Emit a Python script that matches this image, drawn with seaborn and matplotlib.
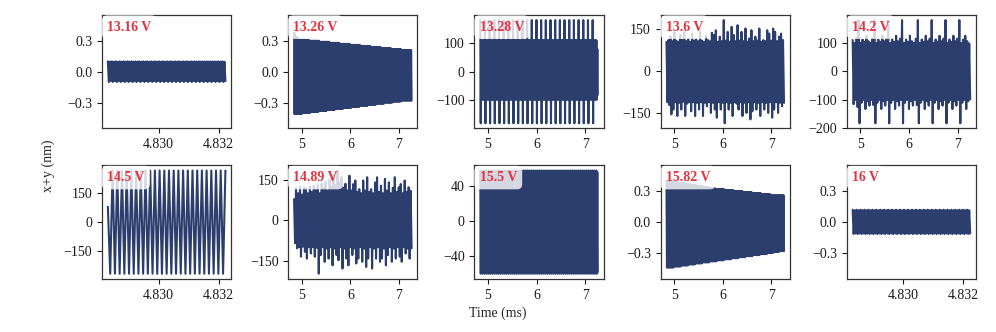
import numpy as np
import seaborn as sns
import matplotlib
matplotlib.use('Agg')
import matplotlib.pyplot as plt
from matplotlib.ticker import MultipleLocator, FormatStrFormatter

# --- Data (peak values of each oscillation cycle) ---
VOLTAGES = ['13.16 V', '13.26 V', '13.28 V', '13.6 V', '14.2 V',
            '14.5 V', '14.89 V', '15.5 V', '15.82 V', '16 V']

# time window of each trace (ms)
T_START = [4.82831, 4.84, 4.84, 4.84, 4.84, 4.82831, 4.84, 4.84, 4.84, 4.82831]
T_END = [4.83223, 7.26, 7.26, 7.26, 7.26, 4.83223, 7.26, 7.26, 7.26, 4.83223]

# 13.16 V
HI_1316 = [0.10, 0.097] * 30
LO_1316 = [-0.10, -0.09] * 30

# 13.26 V (slowly decaying envelope)
HI_1326_LEVELS = [0.38, 0.36, 0.34, 0.33, 0.32, 0.31, 0.30, 0.29, 0.28, 0.27,
                  0.26, 0.25, 0.24, 0.23, 0.22, 0.21]
HI_1326_COUNTS = [1, 1, 1, 1, 1, 10, 10, 10, 10, 10, 10, 10, 10, 10, 10, 10]
LO_1326_LEVELS = [-0.41, -0.40, -0.39, -0.38, -0.37, -0.36, -0.35, -0.34,
                  -0.33, -0.32, -0.31, -0.30, -0.29, -0.28]
LO_1326_COUNTS = [8, 8, 8, 8, 8, 8, 8, 8, 8, 8, 8, 8, 8, 11]

# 13.28 V (bursts every ~0.1 ms)
HI_1328 = ([178] + [108] * 4) * 25 + [78]
LO_1328 = ([-179] + [-97] * 4) * 25 + [-80]

# 13.6 V
HI_136 = [105, 112, 125, 108, 140, 110, 106, 130, 112, 145, 108, 118, 106, 135,
          110, 116, 108, 142, 110, 106, 128, 112, 108, 138, 130, 147, 106, 124,
          108, 183, 110, 141, 106, 159, 130, 108, 165, 110, 141, 108, 153, 106,
          118, 147, 108, 124, 110, 153, 106, 112, 108, 147, 135, 110, 153, 141,
          108, 124, 135, 112]
LO_136 = [-110, -120, -153, -136, -110, -159, -112, -136, -108, -159, -115, -110,
          -142, -110, -159, -112, -136, -110, -159, -112, -124, -110, -148, -112,
          -136, -165, -110, -136, -112, -185, -110, -136, -112, -159, -110, -115,
          -136, -110, -159, -112, -148, -110, -171, -142, -110, -136, -112, -159,
          -110, -136, -112, -148, -110, -165, -136, -110, -148, -112, -124, -112]

# 14.2 V
HI_142 = [110, 100, 118, 180, 100, 112, 104, 125, 106, 100, 115, 180, 100, 112,
          104, 125, 106, 115, 180, 100, 112, 104, 125, 106, 115, 180, 100, 112,
          104, 125, 106, 100, 115, 180, 100, 112, 104, 125, 106, 115, 180, 100,
          112, 104, 125, 106, 115, 180, 100, 112, 104, 125, 106, 115, 180, 100,
          112, 125, 106, 98]
LO_142 = [-115, -100, -125, -182, -110, -100, -132, -105, -120, -100, -118, -182,
          -110, -100, -132, -105, -120, -100, -182, -110, -100, -132, -105, -120,
          -100, -182, -110, -100, -132, -105, -120, -100, -118, -182, -110, -100,
          -132, -105, -120, -100, -182, -110, -100, -132, -105, -120, -100, -182,
          -110, -100, -132, -105, -120, -100, -182, -110, -100, -132, -105, -98]

# 14.5 V (resolved oscillation, starts mid-swing)
HI_145 = [80] + [270] * 25
LO_145 = [-270] * 25

# 14.89 V
HI_1489 = [78, 120, 100, 125, 95, 122, 118, 100, 125, 105, 128, 112, 130, 100,
           135, 120, 140, 110, 150, 125, 170, 130, 184, 140, 160, 120, 135, 110,
           165, 110, 134, 147, 105, 115, 100, 147, 110, 159, 105, 115, 100, 140,
           159, 105, 128, 100, 153, 110, 140, 100, 120, 159, 105, 122, 134, 100,
           147, 105, 122, 109]
LO_1489 = [-85, -104, -100, -135, -98, -117, -142, -100, -123, -100, -135, -102,
           -198, -129, -100, -154, -105, -142, -100, -167, -105, -129, -148, -100,
           -179, -105, -142, -167, -100, -129, -105, -160, -142, -100, -154, -105,
           -173, -142, -100, -179, -105, -142, -100, -154, -142, -105, -167, -129,
           -100, -154, -105, -142, -100, -135, -154, -100, -123, -105, -142, -104]

# 15.5 V
HI_155 = [58, 56] * 60
LO_155 = [-61, -59] * 60

# 15.82 V (decaying envelope)
HI_1582_LEVELS = [0.40, 0.39, 0.38, 0.37, 0.36, 0.35, 0.34, 0.33, 0.32, 0.31,
                  0.30, 0.29, 0.28, 0.27, 0.26]
HI_1582_COUNTS = [6, 6, 6, 6, 6, 6, 6, 6, 9, 9, 9, 9, 9, 9, 13]
LO_1582_LEVELS = [-0.44, -0.43, -0.42, -0.41, -0.40, -0.39, -0.38, -0.37, -0.36,
                  -0.35, -0.34, -0.33, -0.32, -0.31, -0.30, -0.29, -0.28]
LO_1582_COUNTS = [7, 7, 7, 7, 7, 7, 7, 7, 7, 7, 7, 7, 7, 7, 6, 6, 5]

# 16 V
HI_16 = [0.12, 0.115] * 30
LO_16 = [-0.115, -0.11] * 30

# axis settings per panel
Y_LIMITS = [(-0.55, 0.55), (-0.55, 0.55), None, None, None,
            None, None, None, (-0.55, 0.55), (-0.55, 0.55)]
Y_TICK_STEP = [0.3, 0.3, 100, 150, 100, 150, 150, 40, 0.3, 0.3]

LINE_COLOR = '#2c3e6d'
LABEL_COLOR = '#e5323f'


def steps(levels, counts):
    return np.repeat(levels, counts)


def trace(hi, lo):
    hi = np.asarray(hi, dtype=float)
    lo = np.asarray(lo, dtype=float)
    y = np.empty(len(hi) + len(lo))
    y[0::2] = hi
    y[1::2] = lo
    return y


SIGNALS = [
    trace(HI_1316, LO_1316),
    trace(steps(HI_1326_LEVELS, HI_1326_COUNTS), steps(LO_1326_LEVELS, LO_1326_COUNTS)),
    trace(HI_1328, LO_1328),
    trace(HI_136, LO_136),
    trace(HI_142, LO_142),
    trace(HI_145, LO_145),
    trace(HI_1489, LO_1489),
    trace(HI_155, LO_155),
    trace(steps(HI_1582_LEVELS, HI_1582_COUNTS), steps(LO_1582_LEVELS, LO_1582_COUNTS)),
    trace(HI_16, LO_16),
]

# --- Plotting ---
sns.set_style('ticks')
plt.rcParams['font.family'] = ['Liberation Serif', 'DejaVu Serif']
plt.rcParams.update({
    'font.size': 10,
    'xtick.labelsize': 10,
    'ytick.labelsize': 10,
    'axes.linewidth': 0.9,
    'axes.edgecolor': '0.2',
    'xtick.major.size': 3.5,
    'ytick.major.size': 3.5,
    'xtick.major.width': 0.8,
    'ytick.major.width': 0.8,
    'xtick.color': '0.1',
    'ytick.color': '0.1',
})

fig, axes = plt.subplots(2, 5, figsize=(9.96, 3.32), dpi=100)
fig.subplots_adjust(left=0.1024, right=0.98, top=0.955, bottom=0.16,
                    wspace=0.44, hspace=0.325)

for i, ax in enumerate(axes.flat):
    y = SIGNALS[i]
    t = np.linspace(T_START[i], T_END[i], len(y))
    sns.lineplot(x=t, y=y, ax=ax, color=LINE_COLOR, linewidth=1.5,
                 estimator=None, sort=False)

    if T_END[i] - T_START[i] < 0.01:
        ax.xaxis.set_major_locator(MultipleLocator(0.002))
        ax.xaxis.set_major_formatter(FormatStrFormatter('%.3f'))
    else:
        ax.xaxis.set_major_locator(MultipleLocator(1))
    if Y_LIMITS[i] is not None:
        ax.set_ylim(*Y_LIMITS[i])
    ax.yaxis.set_major_locator(MultipleLocator(Y_TICK_STEP[i]))
    ax.set_xlabel('')
    ax.set_ylabel('')

    ax.text(0.04, 0.95, VOLTAGES[i], transform=ax.transAxes, ha='left', va='top',
            color=LABEL_COLOR, fontsize=10, fontweight='bold', zorder=5,
            bbox=dict(boxstyle='round,pad=0.38', facecolor='white', alpha=0.8,
                      edgecolor='none'))

fig.supxlabel('Time (ms)', x=0.5, y=0.035, fontsize=10)
fig.supylabel('x+y (nm)', x=0.042, y=0.5, fontsize=10)

plt.savefig('out.png', dpi=100)
print('saved out.png')
